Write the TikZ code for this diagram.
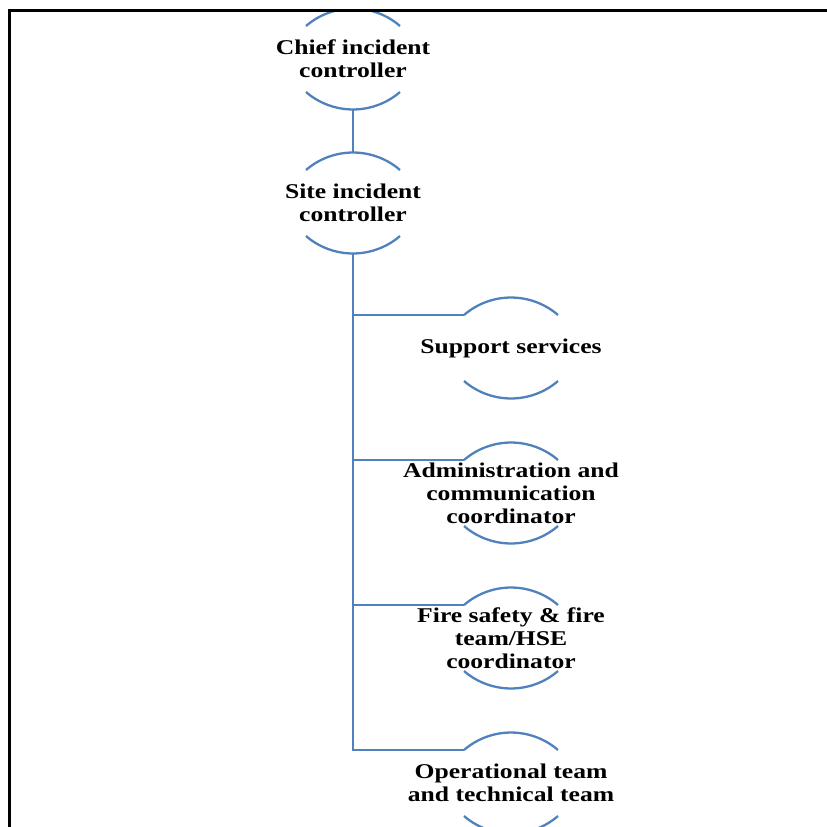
\documentclass[tikz,border=0pt]{standalone}
\usepackage{fontspec}
\setmainfont{Liberation Serif}[FakeStretch=1.22]
\definecolor{arcblue}{RGB}{79,129,189}
\tikzset{
  lbl/.style={align=center, inner sep=0pt, font=\fontsize{21}{23}\selectfont\bfseries},
  arcline/.style={draw=arcblue, line width=2.3pt},
  conn/.style={draw=arcblue, line width=2.3pt},
  frame/.style={draw=black, line width=3pt}
}
\newcommand{\orgnode}[4]{%
  \node[lbl] (#1) at (#2,#3) {#4};
  \coordinate (#1tl) at ([shift={(-47,-33)}]#1.center);
  \coordinate (#1tr) at ([shift={(47,-33)}]#1.center);
  \coordinate (#1bl) at ([shift={(-47,33)}]#1.center);
  \coordinate (#1br) at ([shift={(47,33)}]#1.center);
  \coordinate (#1top) at ([shift={(0,-50.5)}]#1.center);
  \coordinate (#1bot) at ([shift={(0,50.5)}]#1.center);
  \draw[arcline] (#1tl) .. controls +(27,-23.3) and +(-27,-23.3) .. (#1tr);
  \draw[arcline] (#1bl) .. controls +(27,23.3) and +(-27,23.3) .. (#1br);
}
\begin{document}
\begin{tikzpicture}[x=1pt,y=-1pt]
\useasboundingbox (0,0) rectangle (827,827);
\fill[white] (0,0) rectangle (827,827);
\begin{scope}
\clip (11,11.5) rectangle (827,827);
\orgnode{n1}{353}{59}{Chief incident\\controller}
\orgnode{n2}{353}{203}{Site incident\\controller}
\orgnode{c1}{511}{348}{Support services}
\orgnode{c2}{511}{493}{Administration and\\communication\\coordinator}
\orgnode{c3}{511}{638}{Fire safety \& fire\\team/HSE\\coordinator}
\orgnode{c4}{511}{783}{Operational team\\and technical team}
\draw[conn] (n1bot) -- (n2top);
\draw[conn] (n2bot) |- (c4tl);
\draw[conn] (n2bot |- c1tl) -- (c1tl);
\draw[conn] (n2bot |- c2tl) -- (c2tl);
\draw[conn] (n2bot |- c3tl) -- (c3tl);
\end{scope}
\coordinate (fl) at (9.5,827);
\coordinate (fc) at (9.5,10);
\coordinate (fr) at (827,10);
\draw[frame] (fl) -- (fc) -- (fr);
\end{tikzpicture}
\end{document}
